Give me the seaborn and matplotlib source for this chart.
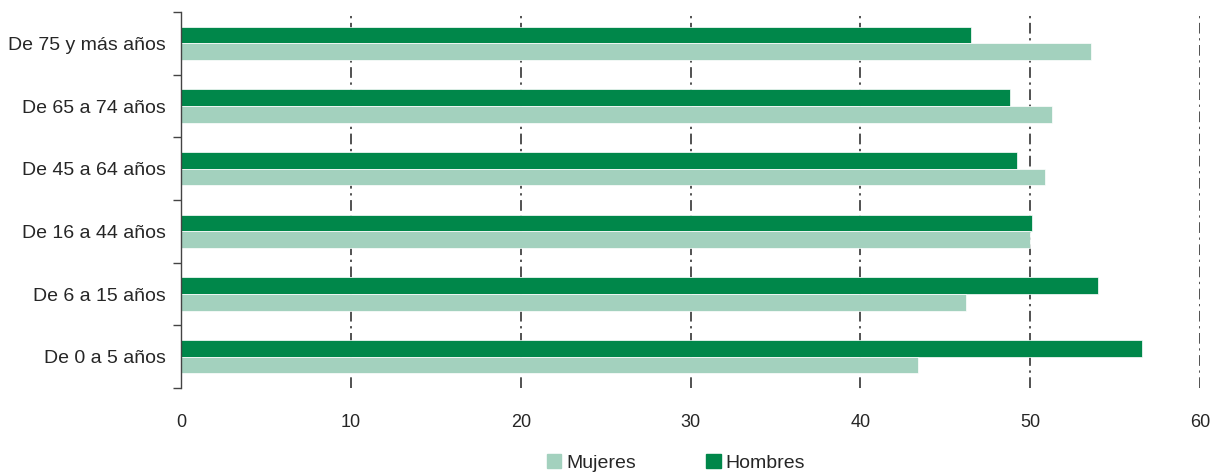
import seaborn as sns
import matplotlib.pyplot as plt
import matplotlib.patches as mpatches
import pandas as pd

# Data (percent)
grupos = ["De 75 y más años", "De 65 a 74 años", "De 45 a 64 años",
          "De 16 a 44 años", "De 6 a 15 años", "De 0 a 5 años"]
hombres = [46.5, 48.8, 49.2, 50.1, 54.0, 56.6]
mujeres = [53.6, 51.3, 50.9, 50.0, 46.2, 43.4]
xticks = [0, 10, 20, 30, 40, 50, 60]

col_h = "#00874A"
col_m = "#A3D1BE"

df = pd.DataFrame({
    "grupo": grupos * 2,
    "valor": hombres + mujeres,
    "sexo": ["Hombres"] * len(grupos) + ["Mujeres"] * len(grupos),
})

sns.set_style("white")
plt.rcParams["font.family"] = ["Liberation Sans", "DejaVu Sans"]

fig = plt.figure(figsize=(12.2, 4.73), dpi=100)
ax = fig.add_axes([0.1484, 0.1797, 0.8352, 0.7949])

sns.barplot(data=df, y="grupo", x="valor", hue="sexo", order=grupos,
            hue_order=["Hombres", "Mujeres"], palette=[col_h, col_m],
            saturation=1, orient="h", width=0.53, legend=False, ax=ax,
            edgecolor="white", linewidth=0.5)

# dash-dot vertical grid
for v in xticks[1:]:
    ax.axvline(v, color="#222222", lw=1.1, ls=(0, (7, 3, 1.5, 3)), zorder=0)

ax.set_xlim(0, 60)
ax.set_ylim(len(grupos) - 0.5, -0.5)
ax.set_xticks(xticks)
ax.set_xticklabels([str(t) for t in xticks], fontsize=13)
ax.tick_params(axis="x", length=0, pad=19)

# ticks at category boundaries, labels at centers
ax.set_yticks([i - 0.5 for i in range(len(grupos) + 1)])
ax.set_yticklabels([])
ax.set_yticks(range(len(grupos)), minor=True)
ax.set_yticklabels(grupos, minor=True, fontsize=14)
ax.tick_params(axis="y", which="major", length=6, width=1, color="#444444", direction="out", left=True)
ax.tick_params(axis="y", which="minor", length=0, pad=11)

ax.set_xlabel("")
ax.set_ylabel("")
for s in ["top", "right", "bottom"]:
    ax.spines[s].set_visible(False)
ax.spines["left"].set_color("#444444")
ax.spines["left"].set_linewidth(1)

handles = [mpatches.Patch(color=col_m, label="Mujeres"),
           mpatches.Patch(color=col_h, label="Hombres")]
fig.legend(handles=handles, loc="lower center", bbox_to_anchor=(0.554, -0.035),
           ncol=2, frameon=False, handlelength=0.75, handleheight=0.75,
           handletextpad=0.25, columnspacing=3.6, prop={"size": 14})

fig.savefig("out.png", dpi=100)
